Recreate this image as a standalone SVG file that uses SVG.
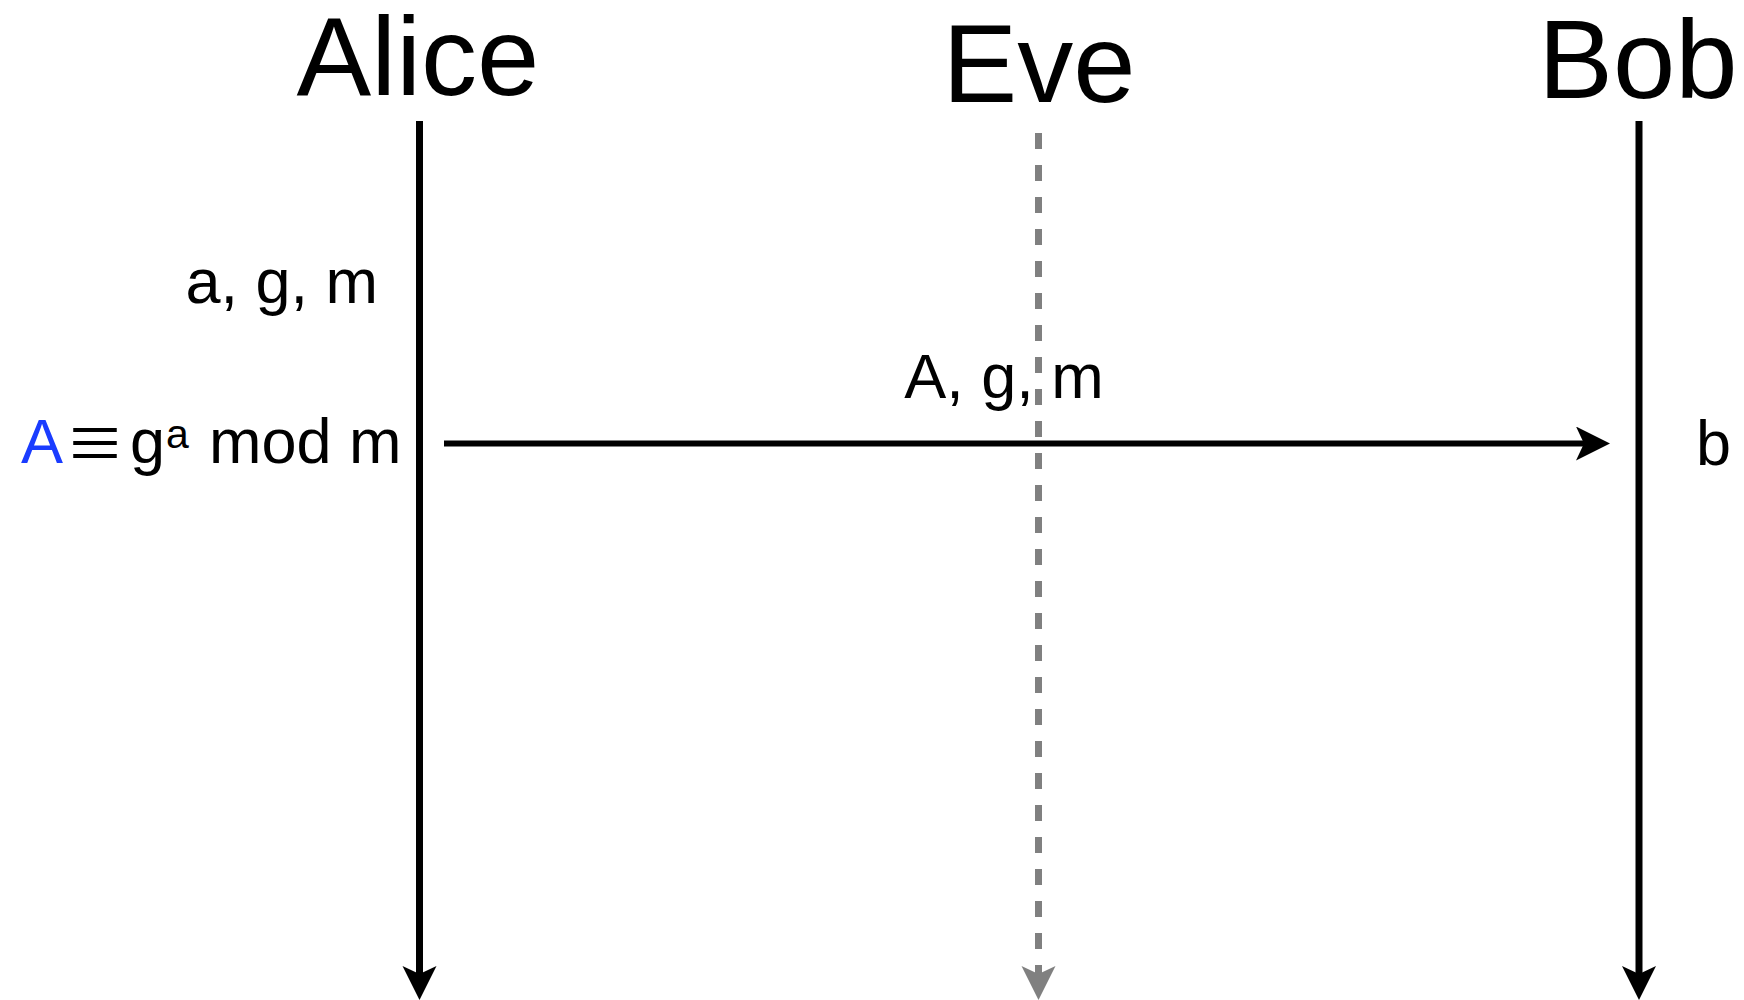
<svg xmlns="http://www.w3.org/2000/svg" width="1744" height="1000" viewBox="0 0 1744 1000">
<style>
  .title { font-family: "Liberation Sans", Arial, sans-serif; font-size: 112px; fill: #000; text-anchor: middle; }
  .lbl { font-family: "Liberation Sans", Arial, sans-serif; font-size: 63px; fill: #000; }
  .blue { fill: #1a3cff; }
  .sup { font-size: 41px; }
  .equiv { font-family: "Noto Sans CJK JP", "DejaVu Sans", sans-serif; font-size: 60px; fill: #000; text-anchor: middle; }
  .life { stroke: #000; stroke-width: 7; fill: none; }
  .eve { stroke: #808080; stroke-width: 7; fill: none; stroke-dasharray: 16 16; }
  .msg { stroke: #000; stroke-width: 6; fill: none; }
</style>
<defs>
  <marker id="ahBlack" markerUnits="userSpaceOnUse" markerWidth="36" markerHeight="36" refX="14" refY="17" orient="auto" viewBox="0 0 36 36">
    <path d="M0,0 L34,17 L0,34 L8,17 z" fill="#000"/>
  </marker>
  <marker id="ahGray" markerUnits="userSpaceOnUse" markerWidth="36" markerHeight="36" refX="14" refY="17" orient="auto" viewBox="0 0 36 36">
    <path d="M0,0 L34,17 L0,34 L8,17 z" fill="#808080"/>
  </marker>
</defs>
<rect width="1744" height="1000" fill="#fff"/>
<g id="alice">
  <text class="title" x="418" y="95">Alice</text>
</g>
<g id="eve">
  <text class="title" x="1039" y="102">Eve</text>
</g>
<g id="bob">
  <text class="title" x="1638" y="98">Bob</text>
</g>
<g id="alice-notes">
  <text class="lbl" x="378" y="303" text-anchor="end">a, g, m</text>
  <text class="lbl blue" x="21" y="463">A</text>
  <text class="equiv" x="95" y="466">≡</text>
  <text class="lbl" x="130" y="463">g</text>
  <text class="lbl sup" x="166" y="448">a</text>
  <text class="lbl" x="209" y="463">mod m</text>
</g>
<g id="bob-notes">
  <text class="lbl" x="1696" y="465">b</text>
</g>
<g id="connectors">
  <line class="life" x1="419.5" y1="121" x2="419.5" y2="980" marker-end="url(#ahBlack)"/>
  <line class="eve" x1="1038.5" y1="133" x2="1038.5" y2="980" marker-end="url(#ahGray)"/>
  <line class="life" x1="1639" y1="121" x2="1639" y2="980" marker-end="url(#ahBlack)"/>
  <line class="msg" x1="444" y1="443.5" x2="1590" y2="443.5" marker-end="url(#ahBlack)"/>
  <text class="lbl" x="1004" y="398" text-anchor="middle">A, g, m</text>
</g>
</svg>
